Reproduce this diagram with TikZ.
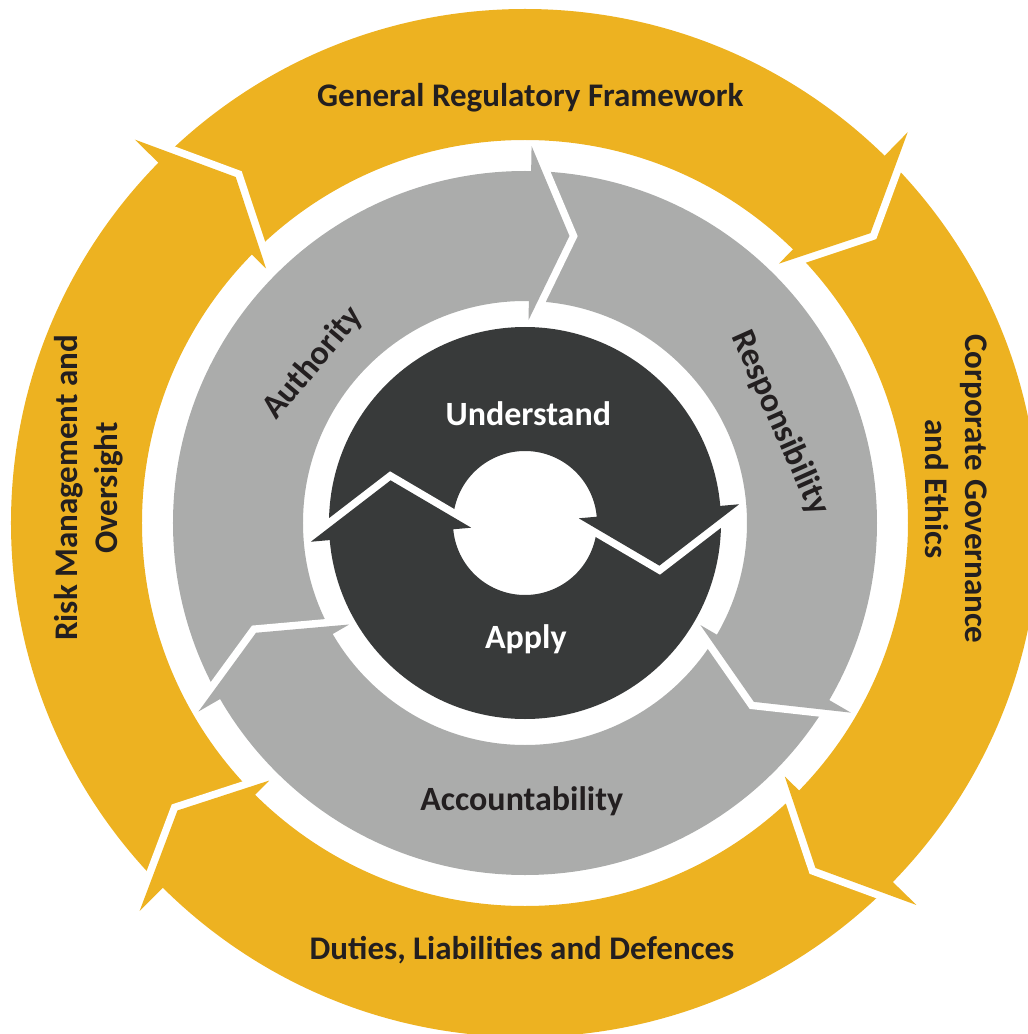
\documentclass[tikz,border=0pt]{standalone}
\usepackage{fontspec}
\setmainfont{Carlito}
\definecolor{ringyellow}{RGB}{237,178,33}
\definecolor{ringgray}{RGB}{171,172,171}
\definecolor{ringdark}{RGB}{56,58,58}
\definecolor{txtdark}{RGB}{35,31,32}
% #1 colour, #2 head base angle, #3 tip angle, #4 tip radius, #5 outer barb radius, #6 inner barb radius
\newcommand\ringhead[6]{%
  \draw[white, line width=15pt, line join=miter] (#2:#5pt) -- (#3:#4pt) -- (#2:#6pt);
  \fill[#1] (#2:#5pt) -- (#3:#4pt) -- (#2:#6pt) -- cycle;
}
\tikzset{
  outerlbl/.style={inner sep=0pt, text=txtdark, font=\fontsize{33}{40}\selectfont\bfseries},
  innerlbl/.style={inner sep=0pt, text=txtdark, font=\fontsize{34}{41}\selectfont\bfseries},
}
\begin{document}
\begin{tikzpicture}[x=1pt,y=1pt]
\useasboundingbox (-525,-511) rectangle (503,523);
% outer ring
\fill[ringyellow, even odd rule] (0,0) circle[radius=514pt] (0,0) circle[radius=383pt];
\ringhead{ringyellow}{135.5}{129.9}{451}{547}{363}
\ringhead{ringyellow}{45.6}{40.0}{451}{547}{363}
\ringhead{ringyellow}{-44.3}{-49.9}{451}{547}{363}
\ringhead{ringyellow}{225.2}{219.6}{451}{547}{363}
% middle ring
\fill[ringgray, even odd rule] (0,0) circle[radius=352pt] (0,0) circle[radius=222pt];
\ringhead{ringgray}{89}{81.2}{290.5}{377}{203}
\ringhead{ringgray}{-30.2}{-38.0}{290.5}{377}{203}
\ringhead{ringgray}{210}{202.2}{290.5}{377}{203}
% inner ring
\fill[ringdark, even odd rule] (0,0) circle[radius=196pt] (0,0) circle[radius=72pt];
\ringhead{ringdark}{5}{-17.6}{141}{215}{54}
\ringhead{ringdark}{185}{162.4}{141}{215}{54}
% labels
\node[outerlbl, anchor=base] (grf) at (5.3,416.3) {General Regulatory Framework};
\node[outerlbl, anchor=base] (dld) at (-3,-436) {Duties, Liabilities and Defences};
\node[outerlbl, rotate=90, align=center] (risk) at (-436.5,35) {Risk Management and\\Oversight};
\node[outerlbl, rotate=-90, align=center] (corp) at (431,34) {Corporate Governance\\and Ethics};
\node[innerlbl, rotate=50] (aut) at (-212,160) {Authority};
\node[innerlbl, rotate=-66] (res) at (255,100) {Responsibility};
\node[innerlbl, anchor=base] (acc) at (-3.3,-287.7) {Accountability};
\node[innerlbl, text=white, anchor=base] (und) at (3.3,98) {Understand};
\node[innerlbl, text=white, anchor=base] (app) at (0.8,-125.3) {Apply};
\end{tikzpicture}
\end{document}
